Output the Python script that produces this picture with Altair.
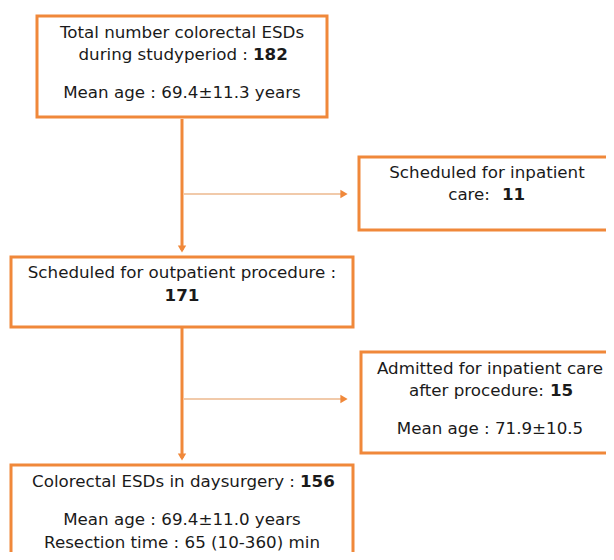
import altair as alt
import pandas as pd

# ---- content ----
counts = ["182", "11", "171", "15", "156"]
box_text = [
    ["Total number colorectal ESDs", "during studyperiod :", "Mean age : 69.4±11.3 years"],
    ["Scheduled for inpatient", "care:"],
    ["Scheduled for outpatient procedure :"],
    ["Admitted for inpatient care", "after procedure:", "Mean age : 71.9±10.5"],
    ["Colorectal ESDs in daysurgery :", "Mean age : 69.4±11.0 years", "Resection time : 65 (10-360) min"],
]

# ---- layout (page pixel coordinates) ----
boxes = pd.DataFrame({
    "x": [37, 359, 11, 361, 11],
    "x2": [327, 640, 353, 640, 353],
    "y": [16, 157, 257, 352, 465],
    "y2": [117, 230, 327, 453, 600],
})

T = []
def t(x, y, s, align="center", weight="normal"):
    T.append({"x": x, "y": y, "text": s, "align": align, "weight": weight})

t(182, 33, box_text[0][0])
t(248, 55, box_text[0][1], "right")
t(253, 55, counts[0], "left", "bold")
t(182, 93, box_text[0][2])

t(487, 173, box_text[1][0])
t(490, 195, box_text[1][1], "right")
t(502, 195, counts[1], "left", "bold")

t(182, 273, box_text[2][0])
t(182, 296, counts[2], "center", "bold")

t(490, 369, box_text[3][0])
t(544, 391, box_text[3][1], "right")
t(550, 391, counts[3], "left", "bold")
t(490, 429, box_text[3][2])

t(295, 482, box_text[4][0], "right")
t(300, 482, counts[4], "left", "bold")
t(182, 520, box_text[4][1])
t(182, 543, box_text[4][2])

texts = pd.DataFrame(T)

vlines = pd.DataFrame({"x": [182, 182], "y": [119, 328], "y2": [250, 458]})
hlines = pd.DataFrame({"x": [184, 184], "x2": [343, 343], "y": [194, 399]})
heads_down = pd.DataFrame({"x": [182, 182], "y": [249, 457]})
heads_right = pd.DataFrame({"x": [344, 344], "y": [194, 399]})

ORANGE = "#F0883A"
W, H = 598, 544
xs = alt.Scale(domain=[8, 8 + W], nice=False, zero=False)
ys = alt.Scale(domain=[8, 8 + H], nice=False, zero=False, reverse=True)
X = lambda f: alt.X(f, type="quantitative", scale=xs, axis=None)
Y = lambda f: alt.Y(f, type="quantitative", scale=ys, axis=None)

rects = alt.Chart(boxes).mark_rect(fill="white", stroke=ORANGE, strokeWidth=3, clip=True).encode(
    x=X("x"), x2="x2", y=Y("y"), y2="y2")

vl = alt.Chart(vlines).mark_rule(color=ORANGE, strokeWidth=3).encode(x=X("x"), y=Y("y"), y2="y2")
hl = alt.Chart(hlines).mark_rule(color="#EDB98E", strokeWidth=1.3).encode(x=X("x"), x2="x2", y=Y("y"))
hd = alt.Chart(heads_down).mark_point(shape="triangle-down", filled=True, color=ORANGE, opacity=1, size=70).encode(
    x=X("x"), y=Y("y"))
hr = alt.Chart(heads_right).mark_point(shape="triangle-right", filled=True, color=ORANGE, opacity=1, size=70).encode(
    x=X("x"), y=Y("y"))

layers = [rects, vl, hl, hd, hr]
for (al, wt), g in texts.groupby(["align", "weight"]):
    layers.append(
        alt.Chart(g).mark_text(font="DejaVu Sans", fontSize=16.7, baseline="middle", color="#1a1a1a",
                                align=al, fontWeight=wt).encode(x=X("x"), y=Y("y"), text="text:N")
    )

chart = alt.layer(*layers).properties(
    width=W, height=H, padding=0, autosize=alt.AutoSizeParams(type="none"),
).configure_view(stroke=None)

chart.save("out.html", embed_options={"renderer": "svg", "actions": False})
